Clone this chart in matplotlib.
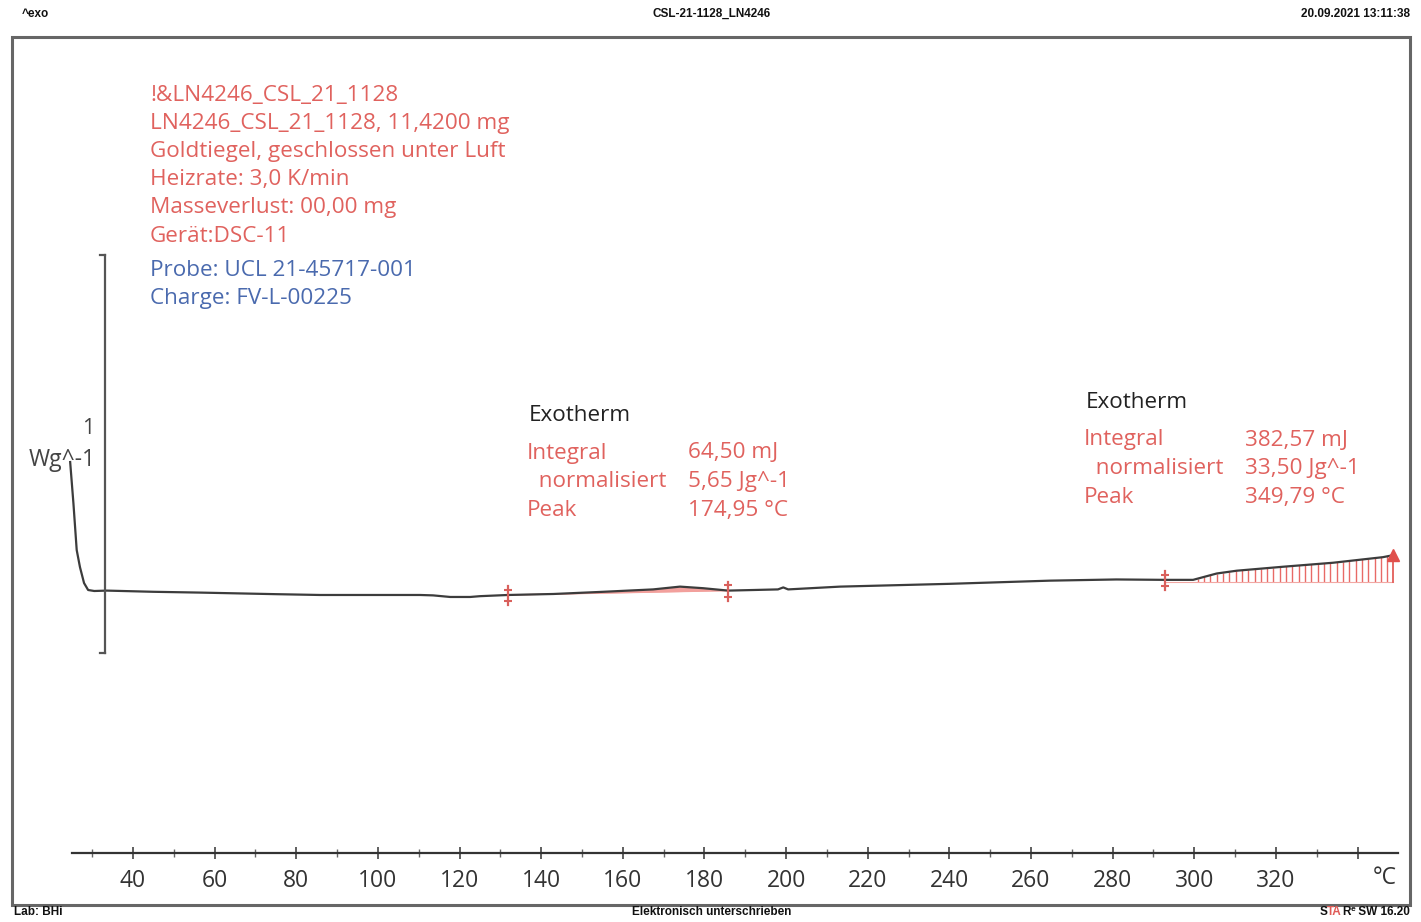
import matplotlib
matplotlib.use("Agg")
import matplotlib.pyplot as plt
import numpy as np
from matplotlib.patches import Rectangle

# ---------------- data ----------------
temp = [24.6, 25.4, 26.2, 27.0, 28.0, 29.0, 30.5, 33.6, 45.0, 56.4, 75.2, 85.8,
        100.0, 110.3, 113.5, 117.7, 122.6, 125.0, 131.9, 143.0, 155.2, 167.4,
        174.0, 179.7, 185.8, 192.0, 198.0, 199.3, 200.5, 213.2, 240.0, 264.6,
        280.9, 292.8, 299.7, 305.5, 310.4, 321.8, 334.0, 346.2, 348.7]
heatflow = [0.324, 0.220, 0.103, 0.060, 0.020, 0.0025, 0.0, 0.001, -0.002,
            -0.004, -0.008, -0.010, -0.010, -0.010, -0.011, -0.015, -0.015,
            -0.013, -0.010, -0.0075, -0.002, 0.004, 0.011, 0.007, 0.001,
            0.0025, 0.004, 0.009, 0.004, 0.011, 0.018, 0.026, 0.029, 0.028,
            0.028, 0.044, 0.051, 0.061, 0.071, 0.085, 0.090]

peak1_limits = [131.9, 185.8]
peak2_limits = [292.8, 348.7]
peak2_baseline = 0.023

xticks_major = [40, 60, 80, 100, 120, 140, 160, 180, 200, 220, 240, 260, 280, 300, 320, 340]
xtick_labels = ["40", "60", "80", "100", "120", "140", "160", "180", "200", "220",
                "240", "260", "280", "300", "320", ""]
xticks_minor = [30, 50, 70, 90, 110, 130, 150, 170, 190, 210, 230, 250, 270, 290, 310, 330]
scale_bar = [-0.156, 0.844]   # 1 W/g
scale_bar_x = 33.1

info_red = ["!&LN4246_CSL_21_1128", "LN4246_CSL_21_1128, 11,4200 mg",
            "Goldtiegel, geschlossen unter Luft", "Heizrate: 3,0 K/min",
            "Masseverlust: 00,00 mg", "Gerät:DSC-11"]
info_blue = ["Probe: UCL 21-45717-001", "Charge: FV-L-00225"]
res1_labels = ["Integral", "  normalisiert", "Peak"]
res1_values = ["64,50 mJ", "5,65 Jg^-1", "174,95 °C"]
res2_values = ["382,57 mJ", "33,50 Jg^-1", "349,79 °C"]

# ---------------- style ----------------
W, H = 1421, 922
FONT = "Open Sans"
RED = "#e0625e"
BLUE = "#4a6aae"
CURVE = "#3c3c3c"
TS = 16.2

fig = plt.figure(figsize=(W / 100, H / 100), dpi=100)
fig.patch.set_facecolor("white")

def fx(px):
    return px / W

def fy(py):
    return 1 - py / H

# axes placement
x_left_px, x_right_px = 71.8, 1398.4
y_axis_px, y_top_px = 853, 40
ax = fig.add_axes([fx(x_left_px), fy(y_axis_px), fx(x_right_px - x_left_px),
                   (y_axis_px - y_top_px) / H])
ax.set_xlim(25, 350)
ppu = 398.0
ax.set_ylim((591 - y_axis_px) / ppu, (591 - y_top_px) / ppu)
for s in ["top", "left", "right"]:
    ax.spines[s].set_visible(False)
ax.spines["bottom"].set_color("#333333")
ax.spines["bottom"].set_linewidth(1.6)
ax.set_yticks([])
ax.set_xticks(xticks_major)
ax.set_xticklabels(xtick_labels, fontfamily=FONT, fontsize=16.5, color="#333333")
ax.set_xticks(xticks_minor, minor=True)
ax.tick_params(axis="x", which="major", direction="inout", length=9, width=1.2,
               color="#444444", pad=7)
ax.tick_params(axis="x", which="minor", direction="inout", length=6, width=1.0,
               color="#666666")
ax.patch.set_alpha(0)

t = np.array(temp)
h = np.array(heatflow)
ax.plot(t, h, color=CURVE, lw=1.6, zorder=3, clip_on=False)

# peak 1 integration (straight baseline)
y1a = np.interp(peak1_limits[0], t, h)
y1b = np.interp(peak1_limits[1], t, h)
tt1 = np.linspace(peak1_limits[0], peak1_limits[1], 200)
hh1 = np.interp(tt1, t, h)
bb1 = np.interp(tt1, peak1_limits, [y1a, y1b])
ax.fill_between(tt1, bb1, hh1, where=hh1 >= bb1, color="#f08a86", alpha=0.8,
                lw=0, zorder=2)
ax.plot(peak1_limits, [y1a, y1b], color="#f2a09c", lw=1.0, zorder=2)

# peak 2 integration (hatched)
tt2 = np.arange(peak2_limits[0] + 8.0, peak2_limits[1], 1.55)
hh2 = np.interp(tt2, t, h)
ax.vlines(tt2, peak2_baseline, hh2, color="#e86a66", lw=1.0, zorder=2)
ax.plot(peak2_limits, [peak2_baseline, peak2_baseline], color="#f2a8a4",
        lw=0.8, zorder=2)

# limit markers
for T in [peak1_limits[0], peak1_limits[1], peak2_limits[0]]:
    yv = np.interp(T, t, h)
    ax.plot([T, T], [yv - 0.025, yv + 0.022], color="#d9605c", lw=1.6, zorder=4)
    ax.plot([T, T], [yv - 0.016, yv + 0.013], ls="none", marker="_",
            ms=6, mew=1.5, color="#d9605c", zorder=4)
yend = np.interp(peak2_limits[1], t, h)
ax.plot([peak2_limits[1]], [yend], marker="^", ms=8, color="#e0504c", zorder=5,
        clip_on=False)
ax.plot([peak2_limits[1], peak2_limits[1]], [peak2_baseline, yend],
        color="#e0504c", lw=1.2, zorder=4, clip_on=False)

# scale bar
ax.plot([scale_bar_x, scale_bar_x], scale_bar, color="#555555", lw=1.6,
        clip_on=False, zorder=3)
ax.plot([scale_bar_x - 1.2, scale_bar_x], [scale_bar[0], scale_bar[0]],
        color="#555555", lw=1.6, clip_on=False)
ax.plot([scale_bar_x - 1.2, scale_bar_x], [scale_bar[1], scale_bar[1]],
        color="#555555", lw=1.6, clip_on=False)

# °C label
fig.text(fx(1385), fy(878), "°C", fontfamily=FONT, fontsize=16.5,
         color="#333333", ha="center", va="center")

# y label "1 Wg^-1"
fig.text(fx(94), fy(428), "1", fontfamily=FONT, fontsize=15.5, color="#444444",
         ha="right", va="center")
fig.text(fx(96), fy(460), "Wg^-1", fontfamily=FONT, fontsize=16.5,
         color="#444444", ha="right", va="center")

# outer frame
fig.patches.append(Rectangle((fx(12), fy(905)), fx(1410 - 12), (905 - 37) / H,
                             transform=fig.transFigure, fill=False,
                             edgecolor="#666666", lw=2.2))

# info block
y0 = 95
for i, s in enumerate(info_red):
    fig.text(fx(150), fy(y0 + i * 28.2), s, fontfamily=FONT, fontsize=TS,
             color=RED, ha="left", va="center")
for i, s in enumerate(info_blue):
    fig.text(fx(150), fy(270 + i * 28.5), s, fontfamily=FONT, fontsize=TS,
             color=BLUE, ha="left", va="center")

# result blocks
def result_block(xl, xv, ytitle, values):
    fig.text(fx(xl + 2), fy(ytitle), "Exotherm", fontfamily=FONT, fontsize=TS,
             color="#222222", ha="left", va="center")
    for i, (lab, val) in enumerate(zip(res1_labels, values)):
        yy = ytitle + 38 + i * 28.5
        fig.text(fx(xl), fy(yy), lab, fontfamily=FONT, fontsize=TS, color=RED,
                 ha="left", va="center")
        fig.text(fx(xv), fy(yy), val, fontfamily=FONT, fontsize=TS, color=RED,
                 ha="left", va="center")

result_block(527, 688, 415, res1_values)
result_block(1084, 1245, 402, res2_values)

# header / footer
HF = dict(fontfamily="Liberation Sans", fontsize=8.5, fontweight="bold",
          color="#111111", va="center")
fig.text(fx(22), fy(14), "^exo", ha="left", **HF)
fig.text(fx(712), fy(14), "CSL-21-1128_LN4246", ha="center", **HF)
fig.text(fx(1410), fy(14), "20.09.2021 13:11:38", ha="right", **HF)
fig.text(fx(14), fy(912), "Lab: BHi", ha="left", **HF)
fig.text(fx(712), fy(912), "Elektronisch unterschrieben", ha="center", **HF)

# STAR logo with red "TA"
fig.canvas.draw()
r = fig.canvas.get_renderer()
pieces = [("S", "#111111"), ("TA", "#e05a56"), ("R", "#111111"),
          ("e", "#111111"), (" SW 16.20", "#111111")]
x = 1410.0
for txt, col in reversed(pieces):
    size = 6 if txt == "e" else 8.5
    yoff = 909 if txt == "e" else 912
    tobj = fig.text(fx(x), fy(yoff), txt, ha="right", va="center",
                    fontfamily="Liberation Sans", fontsize=size,
                    fontweight="bold", color=col)
    bb = tobj.get_window_extent(renderer=r)
    x -= bb.width

fig.savefig("out.png", dpi=100, facecolor="white")
